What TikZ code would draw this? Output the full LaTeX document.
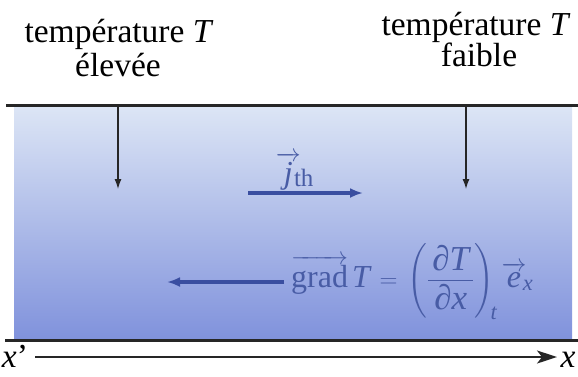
\documentclass[tikz,border=0pt]{standalone}
\usepackage{amsmath}
\usepackage{fontspec}
\setmainfont{Liberation Serif}
\usetikzlibrary{arrows.meta}
\newcommand{\iv}[1]{\text{\itshape #1}}
\newcommand{\bigf}[1]{\text{\fontsize{35}{36}\selectfont #1}}
\definecolor{ink}{RGB}{58,78,160}
\definecolor{inktext}{RGB}{72,92,165}
\definecolor{topfill}{RGB}{220,229,245}
\definecolor{midfill}{RGB}{176,192,236}
\definecolor{botfill}{RGB}{128,146,220}
\begin{document}
\begin{tikzpicture}[x=1pt,y=-1pt,
  lbl/.style={font=\fontsize{33.5}{36}\selectfont, inner sep=0pt, anchor=base},
  bluetext/.style={font=\fontsize{32}{36}\selectfont, text=inktext, inner sep=0pt},
  bluearrow/.style={draw=ink, line width=3.4pt, -{Latex[length=13pt,width=10pt]}},
  downarrow/.style={draw=black!85, line width=1.3pt, -{Latex[length=10pt,width=7pt]}},
  wall/.style={draw=black!85, line width=3pt}]
\useasboundingbox (0,0) rectangle (578,376);
% slab
\shade[top color=topfill, middle color=midfill, bottom color=botfill] (14,107) rectangle (572,339);
\coordinate (tl) at (6,105);
\coordinate (tr) at (578,105);
\coordinate (bl) at (5,340);
\coordinate (br) at (578,340);
\draw[wall] (tl) -- (tr);
\draw[wall] (bl) -- (br);
% labels
\node[lbl] (hot1) at (119,42) {température \textit{T}};
\node[lbl] (hot2) at (118,76) {élevée};
\node[lbl] (cold1) at (476,35) {température \textit{T}};
\node[lbl] (cold2) at (479,66) {faible};
\coordinate (hA) at (118,106);
\coordinate (hB) at (118,189);
\coordinate (cA) at (466,106);
\coordinate (cB) at (466,189);
\draw[downarrow] (hA) -- (hB);
\draw[downarrow] (cA) -- (cB);
% flux
\node[bluetext, anchor=base] (jth) at (298,183)
  {\makebox[0.36em][c]{$\overrightarrow{\iv{j}}$}\raisebox{-3pt}{\fontsize{25}{25}\selectfont th}};
\coordinate (jA) at (248,193);
\coordinate (jB) at (363,193);
\draw[bluearrow] (jA) -- (jB);
% gradient
\node[bluetext, anchor=base west] (grad) at (291,287)
  {$\thickmuskip=7mu\overrightarrow{\text{grad}}\,\iv{T}=\left(\dfrac{\,\bigf{∂\itshape T}\,}{\bigf{∂\itshape x}}\right)_{\!\iv{t}}\overrightarrow{\iv{e}}_{\!\iv{x}}$};
\coordinate (gA) at (284,282);
\coordinate (gB) at (167,282);
\draw[bluearrow] (gA) -- (gB);
% axis
\node[lbl, anchor=base] (xp) at (15,367) {\textit{x}'};
\node[lbl, anchor=base] (xx) at (568,367) {\textit{x}};
\coordinate (aA) at (35,357);
\coordinate (aB) at (557,357);
\draw[draw=black!85, line width=1.8pt, -{Stealth[length=20pt,width=13pt,inset=5pt]}] (aA) -- (aB);
\end{tikzpicture}
\end{document}
